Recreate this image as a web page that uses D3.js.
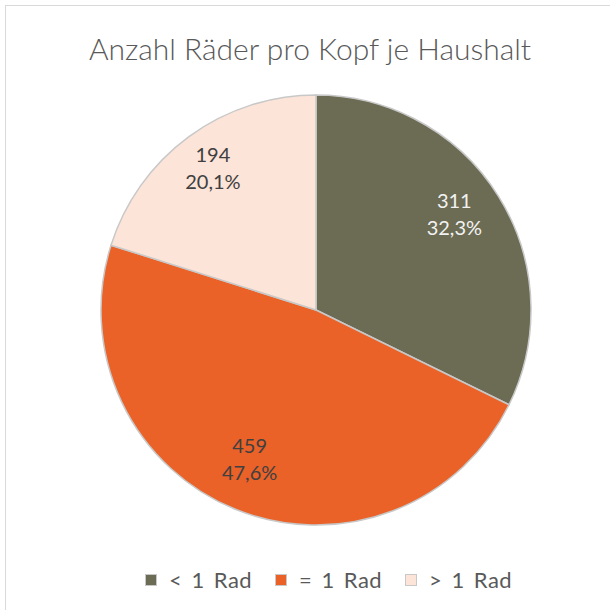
<!DOCTYPE html>
<html><head><meta charset="utf-8">
<script src="https://cdn.jsdelivr.net/npm/d3@7"></script>
<style>html,body{margin:0;padding:0;background:#fff;}svg{display:block;}</style>
</head><body>
<svg id="c" width="610" height="610"></svg>
<script>
const categories = ["< 1 Rad", "= 1 Rad", "> 1 Rad"];
const values = [311, 459, 194];
const percentLabels = ["32,3%", "47,6%", "20,1%"];
const colors = ["#6c6b53", "#ea6228", "#fce4d9"];
const labelColors = ["#f2f2f2", "#404040", "#404040"];
const title = "Anzahl Räder pro Kopf je Haushalt";

const svg = d3.select("#c");
const font = "Lato, 'Open Sans', sans-serif";

svg.append("rect").attr("x", 5.5).attr("y", 5.5).attr("width", 620).attr("height", 620)
  .attr("fill", "#fff").attr("stroke", "#d9d9d9").attr("stroke-width", 1);

svg.append("text").attr("x", 310).attr("y", 60).attr("text-anchor", "middle")
  .attr("font-family", font).attr("font-size", 30).attr("font-weight", 300).attr("fill", "#595959")
  .text(title);

const cx = 316, cy = 310, r = 215;
const g = svg.append("g").attr("transform", `translate(${cx},${cy})`);
const pie = d3.pie().sort(null).value(d => d)(values);
const arc = d3.arc().innerRadius(0).outerRadius(r);
const labelArc = d3.arc().innerRadius(r * 0.78).outerRadius(r * 0.78);

g.selectAll("path").data(pie).join("path")
  .attr("d", arc).attr("fill", (d, i) => colors[i])
  .attr("stroke", "#c8c8c8").attr("stroke-width", 1.5).attr("stroke-linejoin", "round");

const lbl = g.selectAll("text.lbl").data(pie).join("text").attr("class", "lbl")
  .attr("transform", d => { const c = labelArc.centroid(d); return `translate(${c[0] - 4},${c[1]})`; })
  .attr("text-anchor", "middle").attr("font-family", font).attr("font-size", 20)
  .attr("fill", (d, i) => labelColors[i]);
lbl.append("tspan").attr("x", 0).attr("y", -13).text(d => d.data);
lbl.append("tspan").attr("x", 0).attr("y", 14).text((d, i) => percentLabels[i]);

const legX = [145, 275, 405];
const leg = svg.append("g");
categories.forEach((c, i) => {
  leg.append("rect").attr("x", legX[i] + 0.5).attr("y", 574.5).attr("width", 11).attr("height", 11)
    .attr("fill", colors[i]).attr("stroke", "#c8c8c8").attr("stroke-width", 1);
  leg.append("text").attr("x", legX[i] + 24).attr("y", 588)
    .attr("font-family", font).attr("font-size", 22).attr("word-spacing", 3).attr("letter-spacing", 0.5)
    .attr("fill", "#595959").text(c);
});
</script>
</body></html>
